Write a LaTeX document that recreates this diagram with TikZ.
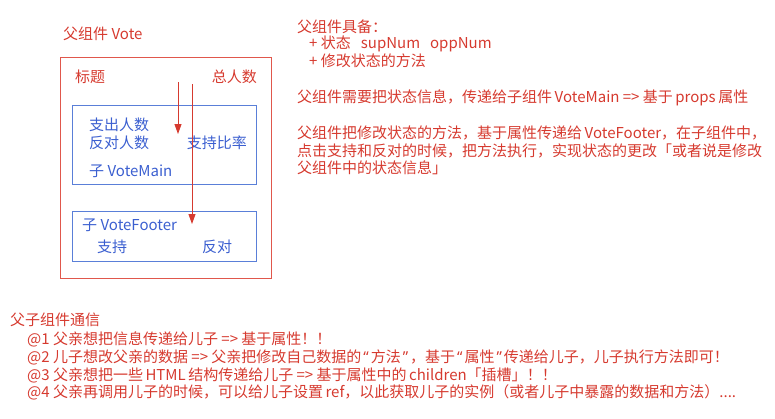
\documentclass[tikz,border=0pt]{standalone}
\usepackage{fontspec}
\setmainfont{Noto Sans CJK SC}
\newfontfamily\qfont{Noto Sans}
\newcommand{\myoq}{\hspace{2pt}{\qfont “}\hspace{2pt}}
\newcommand{\mycq}{\hspace{2pt}{\qfont ”}\hspace{2pt}}
\usetikzlibrary{arrows.meta}
\definecolor{tred}{HTML}{D63A2F}
\definecolor{bred}{HTML}{E0574C}
\definecolor{tblue}{HTML}{3B5FD0}
\definecolor{bblue}{HTML}{5A7FD8}
\tikzset{
  rtxt/.style={anchor=west, inner sep=0pt, text=tred, font=\fontsize{15}{17}\selectfont},
  btxt/.style={anchor=west, inner sep=0pt, text=tblue, font=\fontsize{15}{17}\selectfont},
  redbox/.style={draw=bred, line width=1pt},
  bluebox/.style={draw=bblue, line width=1pt},
  flow/.style={draw=tred, line width=0.9pt, -{Triangle[length=10pt,width=7pt]}}
}
\begin{document}
\begin{tikzpicture}[x=1pt,y=-1pt]
\useasboundingbox (0,0) rectangle (775,418);
% left diagram
\node[rtxt] (title) at (63,34) {父组件 Vote};
\node[redbox, minimum width=211pt, minimum height=221pt, anchor=north west, inner sep=0pt] (vote) at (60,57) {};
\node[rtxt] (biaoti) at (75,77) {标题};
\node[rtxt, anchor=east] (zong) at (257,77) {总人数};
\node[bluebox, minimum width=184pt, minimum height=79pt, anchor=north west, inner sep=0pt] (main) at (72,105) {};
\node[btxt] (zc) at (89,125) {支出人数};
\node[btxt] (fd) at (89,143) {反对人数};
\node[btxt, anchor=east] (bl) at (247,143) {支持比率};
\node[btxt] (vm) at (89,171) {子 VoteMain};
\node[bluebox, minimum width=184pt, minimum height=50pt, anchor=north west, inner sep=0pt] (footer) at (72,211) {};
\node[btxt] (vf) at (82,225) {子 VoteFooter};
\node[btxt] (zh) at (97,247) {支持};
\node[btxt] (fa) at (202,247) {反对};
\coordinate (a1s) at (178,82);
\coordinate (a1e) at (178,134);
\coordinate (a2s) at (192,84);
\coordinate (a2e) at (192,224);
\draw[flow] (a1s) -- (a1e);
\draw[flow] (a2s) -- (a2e);
% right text
\node[rtxt] (r1) at (297,27) {父组件具备：};
\node[rtxt] (r2) at (309,44) {+ 状态\hspace{10pt}supNum\hspace{10pt}oppNum};
\node[rtxt] (r3) at (309,61) {+ 修改状态的方法};
\node[rtxt] (r4) at (297,98) {父组件需要把状态信息，传递给子组件\,VoteMain => 基于\,props\,属性};
\node[rtxt] (r5) at (297,133) {父组件把修改状态的方法，基于属性传递给\,VoteFooter，在子组件中，};
\node[rtxt] (r6) at (297,151) {点击支持和反对的时候，把方法执行，实现状态的更改「或者说是修改};
\node[rtxt] (r7) at (297,168) {父组件中的状态信息」};
% bottom text
\node[rtxt] (b0) at (10,320) {父子组件通信};
\node[rtxt] (b1) at (27,339) {@1 父亲想把信息传递给儿子 => 基于属性！！};
\node[rtxt] (b2) at (27,357) {@2 儿子想改父亲的数据 => 父亲把修改自己数据的\myoq 方法\mycq，基于\myoq 属性\mycq 传递给儿子，儿子执行方法即可！};
\node[rtxt] (b3) at (27,375) {@3 父亲想把一些\,HTML\,结构传递给儿子 => 基于属性中的\,children「插槽」！！};
\node[rtxt] (b4) at (27,392) {@4 父亲再调用儿子的时候，可以给儿子设置\,ref，以此获取儿子的实例（或者儿子中暴露的数据和方法）....};
\end{tikzpicture}
\end{document}
